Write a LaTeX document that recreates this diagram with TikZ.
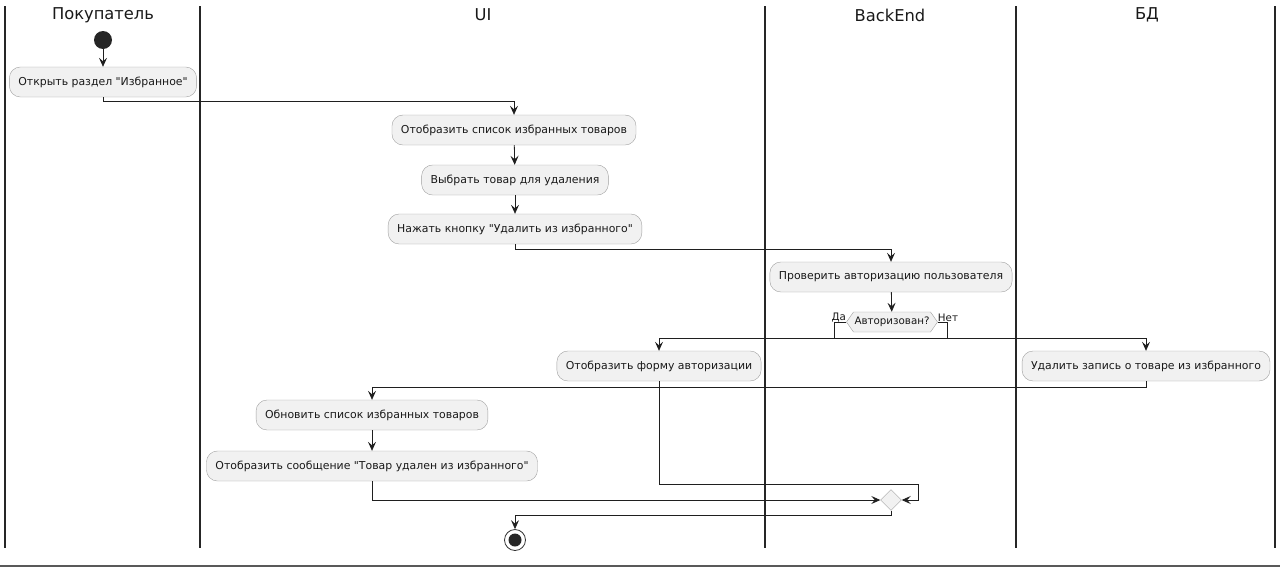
\documentclass[tikz,border=0pt]{standalone}
\usepackage{fontspec}
\setmainfont{DejaVu Sans}[Ligatures=TeXOff]
\usetikzlibrary{arrows.meta,calc,shapes.geometric,shapes.symbols}
\begin{document}
\begin{tikzpicture}[x=1pt,y=-1pt,
  act/.style={draw=gray!75, fill=black!5.5, rounded corners=11pt, minimum height=30pt, inner xsep=9pt, font=\fontsize{10.9}{12}\selectfont, text=black!90},
  lane/.style={draw=black!85, line width=1.2pt},
  flow/.style={draw=black!88, line width=0.8pt},
  arr/.style={flow, -{Stealth[length=9pt,width=8pt,inset=3.5pt]}},
  lanetitle/.style={font=\fontsize{16.3}{18}\selectfont, text=black!90},
  small/.style={font=\fontsize{10.3}{12}\selectfont, text=black!90, inner sep=1pt}]
\useasboundingbox (0,0) rectangle (1280,568);
% lanes
\draw[lane] (5,6) -- (5,548);
\draw[lane] (200,6) -- (200,548);
\draw[lane] (765,6) -- (765,548);
\draw[lane] (1016,6) -- (1016,548);
\draw[lane] (1275,6) -- (1275,548);
\draw[gray!70!black, line width=2pt] (0,566) -- (1280,566);
\node[lanetitle] (t1) at (103,15) {Покупатель};
\node[lanetitle] (t2) at (483,15) {UI};
\node[lanetitle] (t3) at (890,15) {BackEnd};
\node[lanetitle] (t4) at (1147,15) {БД};
% nodes
\node[circle, fill=black!85, minimum size=18pt, inner sep=0] (start) at (103,40) {};
\node[act] (a1) at (103,82) {Открыть раздел "Избранное"};
\node[act] (a2) at (514,130) {Отобразить список избранных товаров};
\node[act] (a3) at (515,180) {Выбрать товар для удаления};
\node[act] (a4) at (515,229) {Нажать кнопку "Удалить из избранного"};
\node[act] (a5) at (891,277) {Проверить авторизацию пользователя};
\node[signal, signal to=west and east, signal pointer angle=110, draw=gray!75, fill=black!5.5, minimum height=20pt, inner xsep=1pt, inner ysep=2pt, font=\fontsize{10.3}{12}\selectfont, text=black!90] (dec) at (892,322) {Авторизован?};
\node[small, anchor=south east] (lda) at ($(dec.west)+(1,1)$) {Да};
\node[small, anchor=south west] (lnet) at ($(dec.east)+(-1,1)$) {Нет};
\node[act] (a6) at (659,366) {Отобразить форму авторизации};
\node[act] (a7) at (1146,366) {Удалить запись о товаре из избранного};
\node[act] (a8) at (372,415) {Обновить список избранных товаров};
\node[act] (a9) at (372,466) {Отобразить сообщение "Товар удален из избранного"};
\node[diamond, draw=gray!75, fill=black!5.5, minimum width=21pt, minimum height=21pt, inner sep=0] (merge) at (891,500) {};
\node[circle, draw=black!80, line width=0.8pt, minimum size=21pt, inner sep=0, path picture={\fill[black!85] (path picture bounding box.center) circle (6.5pt);}] (end) at (515,540) {};
% connectors
\draw[arr] (start) -- (a1);
\draw[arr] (a1.south) -- ++(0,4) -| (a2.north);
\draw[arr] (a2) -- (a3);
\draw[arr] (a3) -- (a4);
\draw[arr] (a4.south) -- ++(0,5) -| (a5.north);
\draw[arr] (a5) -- (dec);
\coordinate (dL) at ($(dec.west)+(-12,16)$);
\coordinate (dR) at ($(dec.east)+(10,16)$);
\draw[arr] (dec.west) -- ++(-12,0) -- (dL) -| (a6.north);
\draw[arr] (dec.east) -- ++(10,0) -- (dR) -| (a7.north);
\draw[flow] (dL) -- (dR);
\coordinate (mR) at ($(merge.east)+(17,0)$);
\draw[arr] (a6.south) |- ($(mR)+(0,-16)$) -- (mR) -- (merge.east);
\draw[arr] (a7.south) -- ++(0,6) -| (a8.north);
\draw[arr] (a8) -- (a9);
\draw[arr] (a9.south) |- (merge.west);
\draw[arr] (merge.south) -- ++(0,5) -| (end.north);
\end{tikzpicture}
\end{document}
